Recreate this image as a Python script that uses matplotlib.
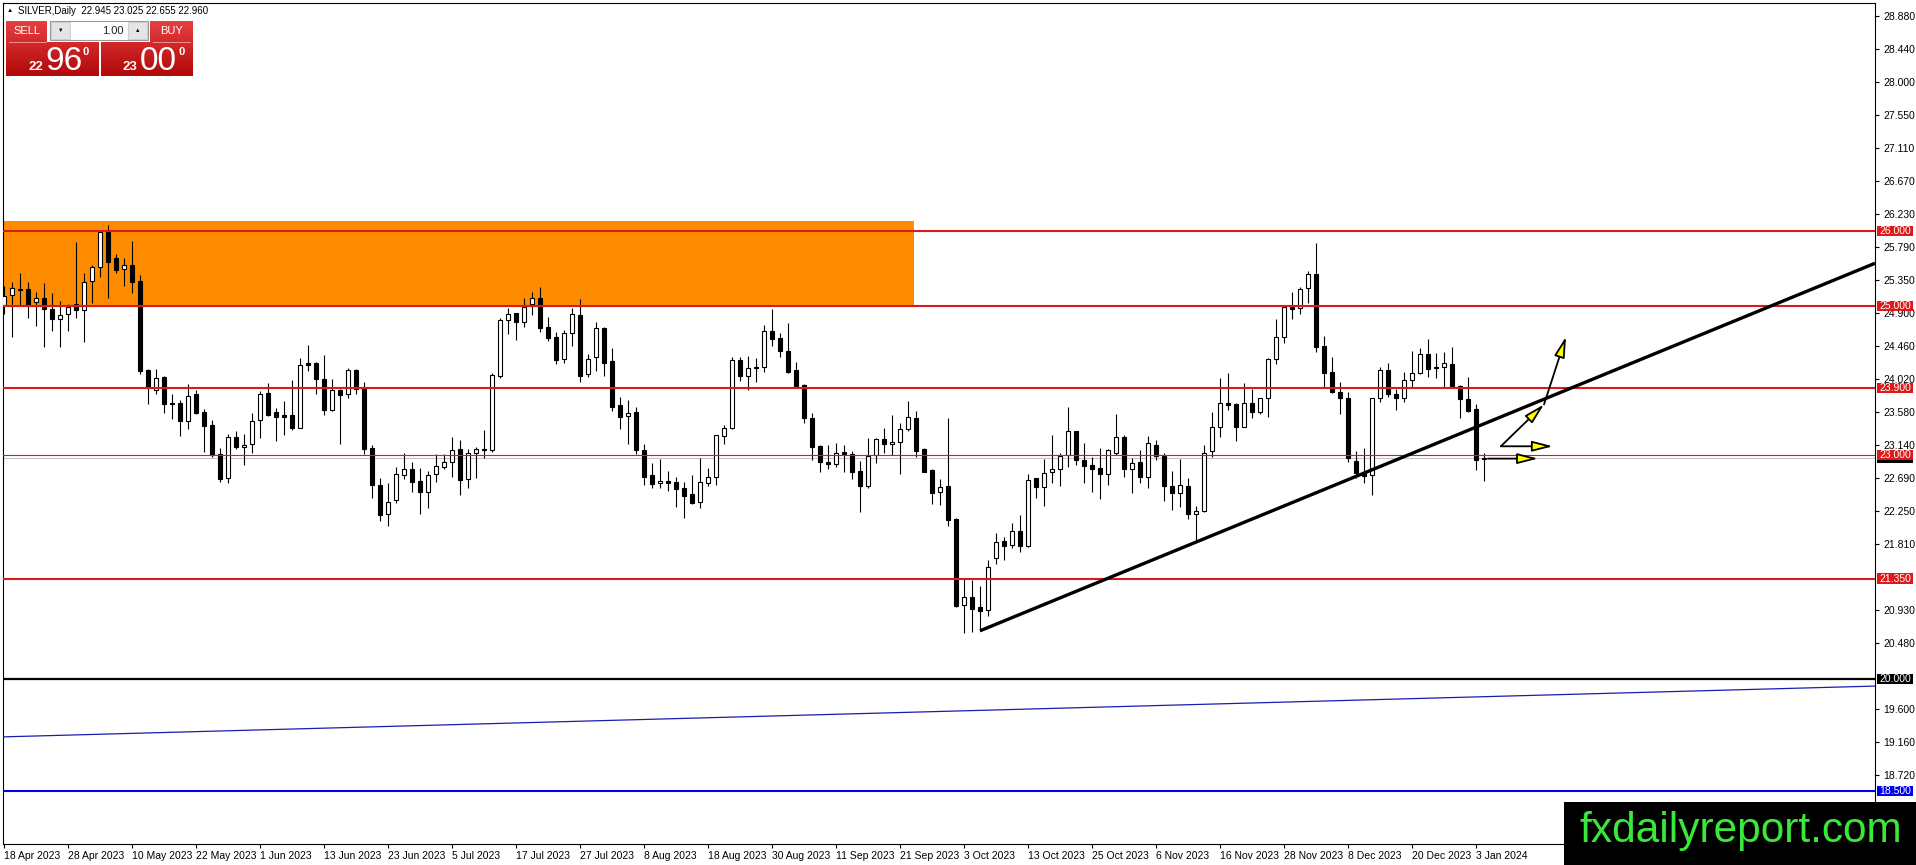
import matplotlib
matplotlib.use('Agg')
import numpy as np
import matplotlib.pyplot as plt
import matplotlib.transforms as mtransforms
from matplotlib.patches import Rectangle, Polygon, FancyArrowPatch
from matplotlib.colors import LinearSegmentedColormap

plt.rcParams['font.family'] = ['Liberation Sans', 'DejaVu Sans']

# SILVER daily candles, 18 Apr 2023 .. 4 Jan 2024 (one entry per bar)
opens = [25.011, 25.141, 25.230, 25.221, 25.047, 25.101, 24.958, 24.819, 24.891, 25.020,
         24.944, 25.333, 25.516, 25.984, 25.636, 25.498, 25.542, 25.333, 24.141, 23.874,
         24.048, 23.700, 23.700, 23.454, 23.820, 23.579, 23.401, 23.012, 22.696, 23.249,
         23.106, 23.151, 23.468, 23.834, 23.579, 23.535, 23.539, 23.369, 24.231, 24.235,
         24.021, 23.606, 23.874, 23.816, 24.141, 23.905, 23.093, 22.602, 22.209, 22.406,
         22.740, 22.812, 22.656, 22.513, 22.745, 22.847, 22.905, 23.079, 22.678, 23.026,
         23.079, 23.071, 24.061, 24.810, 24.900, 24.779, 25.020, 25.100, 24.712, 24.578,
         24.288, 24.632, 24.877, 24.083, 24.311, 24.699, 24.262, 23.673, 23.525, 23.574,
         23.066, 22.736, 22.624, 22.651, 22.637, 22.557, 22.481, 22.370, 22.633, 22.713,
         23.262, 23.360, 24.275, 24.066, 24.177, 24.177, 24.663, 24.570, 24.400, 24.141,
         23.940, 23.494, 23.124, 22.909, 22.878, 23.043, 23.016, 22.793, 22.593, 23.008,
         23.213, 23.146, 23.182, 23.351, 23.494, 23.083, 22.802, 22.503, 22.588, 22.142,
         20.991, 21.107, 20.964, 20.930, 21.620, 21.852, 21.794, 21.990, 21.785, 22.691,
         22.570, 22.771, 22.811, 23.003, 23.324, 22.936, 22.869, 22.825, 22.744, 23.025,
         23.240, 22.811, 22.905, 22.713, 23.137, 22.990, 22.588, 22.490, 22.588, 22.209,
         22.258, 23.057, 23.382, 23.699, 23.686, 23.382, 23.695, 23.583, 23.762, 24.284,
         24.587, 24.989, 24.966, 25.234, 25.426, 24.462, 24.110, 23.842, 23.762, 22.923,
         22.767, 22.731, 23.762, 24.141, 23.820, 23.762, 24.007, 24.096, 24.351, 24.186,
         24.177, 24.217, 23.927, 23.748, 23.614, 22.945]
highs = [25.266, 25.324, 25.444, 25.324, 25.190, 25.310, 25.176, 25.069, 25.020, 25.859,
         25.435, 25.547, 25.993, 26.082, 25.694, 25.636, 25.868, 25.413, 24.150, 24.150,
         24.061, 23.820, 23.740, 23.954, 23.874, 23.615, 23.467, 23.093, 23.280, 23.325,
         23.280, 23.561, 23.865, 23.963, 23.637, 23.726, 24.008, 24.298, 24.476, 24.249,
         24.342, 24.021, 23.883, 24.164, 24.150, 23.976, 23.142, 22.691, 22.624, 22.847,
         23.030, 22.910, 22.830, 22.785, 23.013, 23.013, 23.245, 23.204, 23.079, 23.115,
         23.338, 24.097, 24.833, 24.967, 24.910, 25.100, 25.190, 25.257, 24.855, 24.654,
         24.677, 24.967, 25.092, 24.351, 24.788, 24.712, 24.431, 23.775, 23.740, 23.641,
         23.146, 22.901, 22.945, 22.789, 22.704, 22.646, 22.736, 22.959, 22.825, 23.271,
         23.405, 24.320, 24.311, 24.329, 24.298, 24.744, 24.953, 24.632, 24.775, 24.253,
         23.953, 23.561, 23.137, 23.137, 23.159, 23.137, 23.057, 22.923, 23.226, 23.226,
         23.360, 23.538, 23.436, 23.726, 23.592, 23.092, 22.811, 22.682, 23.494, 22.164,
         21.352, 21.330, 21.250, 21.600, 21.955, 21.910, 22.088, 22.200, 22.744, 22.700,
         22.945, 23.271, 23.034, 23.650, 23.330, 23.168, 22.972, 23.092, 23.083, 23.552,
         23.271, 22.959, 23.070, 23.257, 23.204, 23.025, 22.793, 22.945, 22.691, 22.320,
         23.137, 23.583, 24.029, 24.096, 23.704, 23.962, 23.887, 23.771, 24.297, 24.819,
         24.998, 25.190, 25.247, 25.471, 25.837, 24.596, 24.319, 23.985, 23.842, 23.061,
         23.092, 23.771, 24.186, 24.239, 23.882, 24.119, 24.395, 24.431, 24.556, 24.364,
         24.386, 24.444, 23.940, 24.052, 23.686, 23.025]
lows = [24.891, 24.587, 25.011, 24.842, 24.735, 24.445, 24.668, 24.454, 24.668, 24.833,
        24.521, 25.034, 25.391, 25.109, 25.444, 25.266, 25.168, 24.083, 23.682, 23.816,
        23.570, 23.481, 23.262, 23.347, 23.552, 23.048, 22.977, 22.646, 22.624, 23.088,
        22.865, 23.035, 23.227, 23.530, 23.195, 23.276, 23.343, 23.360, 24.133, 23.820,
        23.539, 23.593, 23.151, 23.771, 23.825, 23.012, 22.428, 22.125, 22.053, 22.366,
        22.678, 22.513, 22.214, 22.299, 22.642, 22.821, 22.709, 22.473, 22.566, 22.700,
        22.968, 23.048, 24.039, 24.619, 24.543, 24.712, 24.877, 24.654, 24.534, 24.217,
        24.239, 24.467, 23.985, 24.052, 24.132, 24.061, 23.597, 23.347, 23.151, 23.012,
        22.602, 22.566, 22.566, 22.521, 22.312, 22.164, 22.347, 22.298, 22.593, 22.602,
        23.151, 23.347, 23.999, 23.874, 23.985, 24.119, 24.463, 24.320, 24.097, 23.909,
        23.427, 22.936, 22.780, 22.811, 22.847, 22.780, 22.682, 22.244, 22.566, 22.900,
        23.034, 23.003, 22.749, 23.329, 22.981, 22.770, 22.347, 22.334, 22.057, 20.973,
        20.616, 20.638, 20.652, 20.850, 21.550, 21.598, 21.754, 21.709, 21.767, 22.432,
        22.320, 22.633, 22.588, 22.838, 22.869, 22.624, 22.512, 22.410, 22.602, 23.003,
        22.704, 22.499, 22.624, 22.557, 22.936, 22.392, 22.267, 22.312, 22.142, 21.856,
        22.245, 22.981, 23.240, 23.606, 23.195, 23.373, 23.494, 23.552, 23.516, 24.217,
        24.507, 24.819, 24.886, 25.042, 24.386, 23.918, 23.829, 23.548, 22.905, 22.691,
        22.633, 22.468, 23.717, 23.784, 23.606, 23.717, 23.918, 24.087, 24.052, 24.029,
        23.918, 23.910, 23.494, 23.583, 22.802, 22.655]
closes = [25.132, 25.234, 25.217, 25.011, 25.101, 24.953, 24.819, 24.873, 24.989, 24.940,
          25.315, 25.516, 25.984, 25.591, 25.480, 25.542, 25.324, 24.128, 23.918, 24.030,
          23.682, 23.682, 23.454, 23.789, 23.570, 23.392, 23.004, 22.678, 23.249, 23.106,
          23.133, 23.459, 23.816, 23.539, 23.517, 23.517, 23.369, 24.204, 24.213, 24.025,
          23.606, 23.874, 23.811, 24.141, 23.883, 23.084, 22.602, 22.200, 22.370, 22.745,
          22.812, 22.647, 22.513, 22.731, 22.852, 22.905, 23.066, 22.669, 23.026, 23.079,
          23.066, 24.070, 24.810, 24.886, 24.788, 24.989, 25.100, 24.708, 24.565, 24.275,
          24.632, 24.886, 24.065, 24.284, 24.699, 24.239, 23.650, 23.516, 23.570, 23.070,
          22.713, 22.620, 22.651, 22.633, 22.544, 22.459, 22.365, 22.637, 22.704, 23.267,
          23.360, 24.275, 24.066, 24.164, 24.168, 24.663, 24.561, 24.400, 24.119, 23.927,
          23.494, 23.115, 22.914, 22.883, 23.025, 23.012, 22.780, 22.593, 22.990, 23.213,
          23.146, 23.182, 23.347, 23.507, 23.061, 22.780, 22.490, 22.570, 22.133, 20.982,
          21.107, 20.946, 20.919, 21.500, 21.843, 21.785, 21.990, 21.785, 22.669, 22.570,
          22.758, 22.811, 22.994, 23.324, 22.936, 22.860, 22.811, 22.744, 23.070, 23.249,
          22.811, 22.892, 22.713, 23.159, 22.990, 22.588, 22.490, 22.597, 22.209, 22.258,
          23.034, 23.382, 23.695, 23.668, 23.382, 23.695, 23.583, 23.762, 24.284, 24.587,
          24.980, 24.962, 25.225, 25.426, 24.453, 24.105, 23.851, 23.762, 22.959, 22.767,
          22.722, 23.762, 24.141, 23.820, 23.762, 24.007, 24.096, 24.351, 24.150, 24.172,
          24.230, 23.918, 23.748, 23.597, 22.936, 22.960]

date_labels = ['18 Apr 2023', '28 Apr 2023', '10 May 2023', '22 May 2023', '1 Jun 2023',
               '13 Jun 2023', '23 Jun 2023', '5 Jul 2023', '17 Jul 2023', '27 Jul 2023',
               '8 Aug 2023', '18 Aug 2023', '30 Aug 2023', '11 Sep 2023', '21 Sep 2023',
               '3 Oct 2023', '13 Oct 2023', '25 Oct 2023', '6 Nov 2023', '16 Nov 2023',
               '28 Nov 2023', '8 Dec 2023', '20 Dec 2023', '3 Jan 2024']
# scale values; the two hidden under the 21.350 and 20.000 tags are left out
price_ticks = [28.880, 28.440, 28.000, 27.550, 27.110, 26.670, 26.230, 25.790, 25.350,
               24.900, 24.460, 24.020, 23.580, 23.140, 22.690, 22.250, 21.810,
               20.930, 20.480, 19.600, 19.160, 18.720]

# drawn objects on the chart
red_levels = [26.0, 25.0, 23.9, 21.35]
thin_red_level = 23.0
black_level = 20.0
blue_level = 18.5
bid_price = 22.960
zone_low, zone_high, zone_end_bar = 25.0, 26.135, 113.75
trend_bars, trend_prices = [122, 233.875], [20.65, 25.57]
channel_bars, channel_prices = [-0.125, 233.875], [19.23, 19.91]
arrows = [((187.1, 23.12), (193.6, 23.12)),
          ((185.5, 22.955), (191.75, 22.955)),
          ((187.1, 23.12), (192.5, 23.68)),
          ((192.5, 23.68), (195.25, 24.587))]

RED = '#dc1a1a'
W, H = 1916, 865
fig = plt.figure(figsize=(W / 100, H / 100), dpi=100)
ax = fig.add_axes([3 / W, 21 / H, 1872 / W, 841 / H])
ax.set_xlim(-0.125, 233.875)
ax.set_ylim(17.796, 29.054)

# candles
x = np.arange(len(opens))
o, h, l, c = map(np.array, (opens, highs, lows, closes))
ax.vlines(x, l, h, color='black', lw=0.8, zorder=3)
body_lo = np.minimum(o, c)
body_h = np.maximum(np.abs(c - o), 0.004)
faces = ['white' if cc >= oo else 'black' for oo, cc in zip(o, c)]
ax.bar(x, body_h, bottom=body_lo, width=0.55, color=faces, edgecolor='black',
       linewidth=0.8, zorder=4)

# supply zone
ax.add_patch(Rectangle((-2, zone_low), zone_end_bar + 2, zone_high - zone_low,
                       facecolor='#ff8c00', edgecolor='none', zorder=1))

# horizontal levels
ax.axhline(bid_price, color='#c4c4c4', lw=0.8, zorder=2)
for lv in red_levels:
    ax.axhline(lv, color=RED, lw=1.5, zorder=5)
ax.axhline(thin_red_level, color=RED, lw=0.8, zorder=5)
ax.axhline(black_level, color='black', lw=1.6, zorder=5)
ax.axhline(blue_level, color='#0000ee', lw=1.5, zorder=5)

# trend line and lower channel line
ax.plot(channel_bars, channel_prices, color='#1c1cb0', lw=0.9, zorder=5)
ax.plot(trend_bars, trend_prices, color='black', lw=2.4, zorder=6,
        solid_capstyle='butt')

for start, end in arrows:
    ax.add_patch(FancyArrowPatch(start, end, arrowstyle='-|>,head_length=1.25,head_width=0.32',
                                 mutation_scale=10, facecolor='#ffff00', edgecolor='black',
                                 lw=1.3, shrinkA=0, shrinkB=0, zorder=7))

# axes styling
for sp in ax.spines.values():
    sp.set_linewidth(0.8)
ax.yaxis.tick_right()
ax.set_yticks(price_ticks)
ax.set_yticklabels([f'{v:.3f}' for v in price_ticks])
ax.tick_params(axis='y', length=3, width=0.8, pad=3, labelsize=7.5)
ax.set_xticks(range(0, 8 * len(date_labels), 8))
ax.set_xticklabels(date_labels)
for lbl in ax.get_xticklabels():
    lbl.set_horizontalalignment('left')
ax.tick_params(axis='x', length=3, width=0.8, pad=2, labelsize=7.5)

# price tags on the right scale
trans = mtransforms.blended_transform_factory(ax.transAxes, ax.transData)
tags = [(bid_price, 'black'), (26.0, RED), (25.0, RED), (23.9, RED), (thin_red_level, RED),
        (21.35, RED), (black_level, 'black'), (blue_level, '#0000ee')]
for k, (p, col) in enumerate(tags):
    ax.add_patch(Rectangle((1.0012, p - 0.068), 0.0193, 0.136, transform=trans,
                           facecolor=col, edgecolor='none', clip_on=False, zorder=10 + k))
    if p != bid_price:
        ax.text(1.0108, p, f'{p:.3f}', transform=trans, color='white', fontsize=7.5,
                ha='center', va='center', clip_on=False, zorder=10 + k)

# overlay in pixel units: trade panel, header, watermark
ov = fig.add_axes([0, 0, 1, 1])
ov.set_xlim(0, W)
ov.set_ylim(H, 0)
ov.axis('off')

ov.text(7, 11, '\u25b2', fontsize=4.5, ha='left', va='center', color='black')
ov.text(18, 11, 'SILVER,Daily  22.945 23.025 22.655 22.960', fontsize=7, ha='left',
        va='center', color='black')

grad = LinearSegmentedColormap.from_list('btn', ['#e84040', '#b00808'])
g = np.linspace(0, 1, 64).reshape(-1, 1)
sell_poly = Polygon([(6, 21), (47, 21), (47, 42), (99, 42), (99, 76), (6, 76)], closed=True,
                    facecolor='none', edgecolor='none')
buy_poly = Polygon([(150, 21), (193, 21), (193, 76), (101, 76), (101, 42), (150, 42)],
                   closed=True, facecolor='none', edgecolor='none')
for poly, ext in ((sell_poly, (6, 99, 76, 21)), (buy_poly, (101, 193, 76, 21))):
    ov.add_patch(poly)
    im = ov.imshow(g, cmap=grad, extent=ext, aspect='auto', zorder=2)
    im.set_clip_path(poly)
ov.set_xlim(0, W)
ov.set_ylim(H, 0)
ov.plot([9, 46], [41.5, 41.5], color='#f09090', lw=0.7, zorder=3)
ov.plot([153, 190], [41.5, 41.5], color='#f09090', lw=0.7, zorder=3)

ov.add_patch(Rectangle((50, 21), 98, 19, facecolor='white', edgecolor='#9a9a9a', lw=0.8, zorder=2))
ov.add_patch(Rectangle((51, 22), 19, 17, facecolor='#e4e4e4', edgecolor='#c0c0c0', lw=0.5, zorder=3))
ov.add_patch(Rectangle((128, 22), 19, 17, facecolor='#e4e4e4', edgecolor='#c0c0c0', lw=0.5, zorder=3))
ov.text(60.5, 30.5, '\u25bc', fontsize=4, ha='center', va='center', zorder=4)
ov.text(137.5, 30, '\u25b2', fontsize=4, ha='center', va='center', zorder=4)
ov.text(124, 30.5, '1.00', fontsize=8, ha='right', va='center', color='#222222', zorder=4)
ov.text(27, 31, 'SELL', fontsize=8, ha='center', va='center', color='white', zorder=4)
ov.text(171.5, 31, 'BUY', fontsize=8, ha='center', va='center', color='white', zorder=4)

ov.text(29, 70, '22', fontsize=9.5, fontweight='bold', ha='left', va='baseline', color='white', zorder=4)
ov.text(45, 70, '96', fontsize=24, ha='left', va='baseline', color='white', zorder=4)
ov.text(83, 55, '0', fontsize=8, fontweight='bold', ha='left', va='baseline', color='white', zorder=4)
ov.text(123, 70, '23', fontsize=9.5, fontweight='bold', ha='left', va='baseline', color='white', zorder=4)
ov.text(140, 70, '00', fontsize=24, ha='left', va='baseline', color='white', zorder=4)
ov.text(179, 55, '0', fontsize=8, fontweight='bold', ha='left', va='baseline', color='white', zorder=4)

ov.add_patch(Rectangle((1564, 802), 352, 63, facecolor='black', edgecolor='none', zorder=5))
ov.text(1579, 842, 'fxdailyreport.com', fontsize=30.5, color='#3ae83a', ha='left',
        va='baseline', zorder=6)

fig.savefig('out.png', dpi=100)
